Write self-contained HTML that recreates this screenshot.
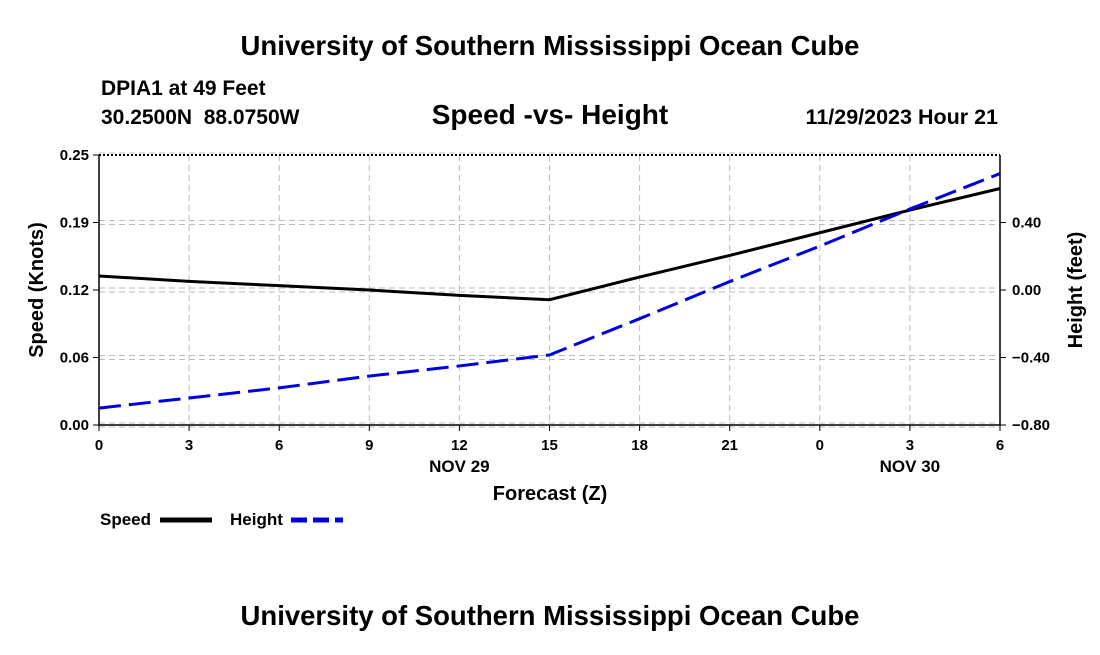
<!DOCTYPE html>
<html><head><meta charset="utf-8"><style>
body{margin:0;background:#fff;width:1100px;height:650px;overflow:hidden;font-family:"Liberation Sans",sans-serif}
</style></head><body>
<svg id="chart" width="1100" height="650" xmlns="http://www.w3.org/2000/svg" font-family="Liberation Sans, sans-serif" font-weight="bold">
<text x="550" y="55" text-anchor="middle" font-size="27.5">University of Southern Mississippi Ocean Cube</text>
<text x="101" y="95" font-size="21">DPIA1 at 49 Feet</text>
<text x="101" y="124" font-size="21" xml:space="preserve">30.2500N  88.0750W</text>
<text x="550" y="124" text-anchor="middle" font-size="28">Speed -vs- Height</text>
<text x="998" y="124" text-anchor="end" font-size="21.5">11/29/2023 Hour 21</text>
<g id="grid"></g><g id="axes"></g><g id="series"></g>
<text x="550" y="500" text-anchor="middle" font-size="20">Forecast (Z)</text>
<text transform="translate(43,290) rotate(-90)" text-anchor="middle" font-size="20">Speed (Knots)</text>
<text transform="translate(1082,290) rotate(-90)" text-anchor="middle" font-size="20">Height (feet)</text>
<g>
<text x="100" y="525" font-size="17">Speed</text>
<line x1="160" y1="520" x2="212" y2="520" stroke="#000" stroke-width="5"/>
<text x="230" y="525" font-size="17">Height</text>
<line x1="291" y1="520" x2="343" y2="520" stroke="#0000e0" stroke-width="5" stroke-dasharray="16,6"/>
</g>
<text x="550" y="625" text-anchor="middle" font-size="27.5">University of Southern Mississippi Ocean Cube</text>
</svg>
<script>
const hours=[0,3,6,9,12,15,18,21,24,27,30];
const xLabels=["0","3","6","9","12","15","18","21","0","3","6"];
const speed=[0.138,0.133,0.129,0.125,0.120,0.116,0.137,0.157,0.178,0.199,0.219];
const height=[-0.70,-0.64,-0.58,-0.51,-0.45,-0.385,-0.17,0.05,0.26,0.48,0.69];
const leftTicks=[0,0.0625,0.125,0.1875,0.25];
const leftLabels=["0.00","0.06","0.12","0.19","0.25"];
const rightTicks=[-0.8,-0.4,0,0.4];
const rightLabels=["\u22120.80","\u22120.40","0.00","0.40"];
const PL=99,PR=1000,PT=155,PB=425,NS="http://www.w3.org/2000/svg";
const xs=h=>PL+(PR-PL)*h/30, yl=v=>PB-(PB-PT)*v/0.25, yr=v=>PB-(PB-PT)*(v+0.8)/1.6;
function mk(p,t,a){const e=document.createElementNS(NS,t);for(const k in a)e.setAttribute(k,a[k]);document.getElementById(p).appendChild(e);return e;}
hours.forEach((h,i)=>{
 const g=mk('grid','line',{x1:xs(h),x2:xs(h),y1:PT,y2:PB,stroke:'#bbb','stroke-dasharray':'6,4'});
 
 
 const t=mk('axes','line',{x1:xs(h),x2:xs(h),y1:PB,y2:PB+6,stroke:'#000'});
 
 
 const l=mk('axes','text',{x:xs(h),y:PB+25,'text-anchor':'middle','font-size':15});
 l.textContent=xLabels[i];
 
 
});
leftTicks.forEach((v,i)=>{
 const g=mk('grid','line',{x1:PL,x2:PR,y1:yl(v)-2,y2:yl(v)-2,stroke:'#bbb','stroke-dasharray':'6,4'});
 
 
 const t=mk('axes','line',{x1:PL-6,x2:PL,y1:yl(v),y2:yl(v),stroke:'#000'});
 
 
 const l=mk('axes','text',{x:PL-10,y:yl(v)+5,'text-anchor':'end','font-size':15});
 l.textContent=leftLabels[i];
 
 
});
rightTicks.forEach((v,i)=>{
 const g=mk('grid','line',{x1:PL,x2:PR,y1:yr(v)+2,y2:yr(v)+2,stroke:'#bbb','stroke-dasharray':'6,4'});
 
 
 const t=mk('axes','line',{x1:PR,x2:PR+6,y1:yr(v),y2:yr(v),stroke:'#000'});
 
 
 const l=mk('axes','text',{x:PR+12,y:yr(v)+5,'font-size':15});
 l.textContent=rightLabels[i];
 
 
});
const topBorder=mk('axes','line',{x1:PL,x2:PR,y1:PT,y2:PT,stroke:'#000','stroke-width':2,'stroke-dasharray':'2,2'});


const fr=mk('axes','path',{d:`M${PL},${PT}V${PB}H${PR}V${PT}`,fill:'none',stroke:'#000','stroke-width':1.5});


[["NOV 29",12],["NOV 30",27]].forEach(([s,h])=>{
 const l=mk('axes','text',{x:xs(h),y:PB+47,'text-anchor':'middle','font-size':17});
 l.textContent=s;
 
 
});
const sp=mk('series','polyline',{points:hours.map((h,i)=>xs(h)+','+yl(speed[i])).join(' '),fill:'none',stroke:'#000','stroke-width':3});


const hp=mk('series','polyline',{points:hours.map((h,i)=>xs(h)+','+yr(height[i])).join(' '),fill:'none',stroke:'#0000e0','stroke-width':3,'stroke-dasharray':'22,8'});


</script>
</body></html>
